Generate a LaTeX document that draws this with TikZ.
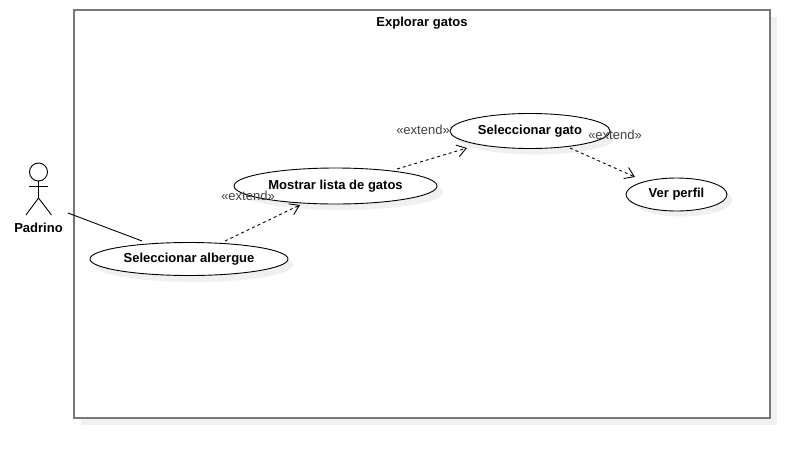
\documentclass[tikz,border=0pt]{standalone}
\usepackage{fontspec}
\setmainfont{Liberation Sans}
\usetikzlibrary{arrows.meta,calc,shapes.geometric}
\definecolor{framegray}{HTML}{777777}
\definecolor{softshadow}{HTML}{F0F0F0}
\newcommand{\lowered}[1]{\raisebox{-1pt}{#1}}
\tikzset{
  usecase/.style={draw=black,line width=0.9pt,fill=white,ellipse,inner sep=0pt,outer sep=0pt,font=\fontsize{13}{15}\selectfont\bfseries},
  shadowshape/.style={fill=softshadow,draw=none},
  extendlabel/.style={font=\fontsize{13}{15}\selectfont,text=black!75,inner sep=0pt},
  boldlabel/.style={font=\fontsize{13}{15}\selectfont\bfseries,inner sep=0pt},
  extendarrow/.style={line width=0.9pt,dash pattern=on 3pt off 3pt,-{Straight Barb[length=9pt,width=12pt,line width=0.9pt]}},
  assoc/.style={line width=0.9pt},
  actorline/.style={line width=0.9pt}
}
\begin{document}
\begin{tikzpicture}[x=1pt,y=-1pt]
\useasboundingbox (0,0) rectangle (810,458);
\fill[white] (0,0) rectangle (810,458);
% frame
\fill[shadowshape] (81,17) rectangle (777,425);
\node[draw=framegray,line width=2pt,fill=white,minimum width=696pt,minimum height=408pt,inner sep=0pt,outer sep=0pt] (frame) at (422,214) {};
\node[boldlabel] (title) at (422,23.5) {Explorar gatos};
% shadows
\fill[shadowshape] (194,265) ellipse [x radius=99,y radius=17];
\fill[shadowshape] (341,192) ellipse [x radius=102,y radius=18];
\fill[shadowshape] (536,137) ellipse [x radius=80,y radius=17.5];
\fill[shadowshape] (682,200) ellipse [x radius=50.5,y radius=16.5];
% use cases
\node[usecase,minimum width=198pt,minimum height=33pt] (alb) at (189,259) {\lowered{Seleccionar albergue}};
\node[usecase,minimum width=203pt,minimum height=36pt] (lista) at (335.5,186) {\lowered{Mostrar lista de gatos}};
\node[usecase,minimum width=160pt,minimum height=35pt] (gato) at (530,131) {\lowered{Seleccionar gato}};
\node[usecase,minimum width=101pt,minimum height=33pt] (perfil) at (676.5,194.5) {\lowered{Ver perfil}};
% actor
\coordinate (actorhead) at (38.5,172);
\draw[actorline] (actorhead) circle [radius=9];
\coordinate (neck) at (38.5,181);
\coordinate (hip) at (38.5,198);
\draw[actorline] (neck) -- (hip);
\draw[actorline] ($(neck)+(-9.5,5)$) -- ($(neck)+(9.5,5)$);
\draw[actorline] ($(hip)+(-12.5,17)$) -- (hip) -- ($(hip)+(13,17)$);
\node[boldlabel] (padrino) at (38.5,228) {Padrino};
% connectors
\draw[assoc] ($(padrino)+(29.5,-15)$) -- ($(alb)+(-47,-18)$);
\draw[extendarrow] ($(alb)+(36,-18)$) -- ($(lista)+(-35.5,19)$);
\draw[extendarrow] ($(lista)+(61.5,-17)$) -- ($(gato)+(-63,17)$);
\draw[extendarrow] ($(gato)+(40,17)$) -- ($(perfil)+(-41.5,-17.5)$);
% labels
\node[extendlabel] (e1) at (248,196) {«extend»};
\node[extendlabel] (e2) at (423,130) {«extend»};
\node[extendlabel] (e3) at (615,135) {«extend»};
\end{tikzpicture}
\end{document}
